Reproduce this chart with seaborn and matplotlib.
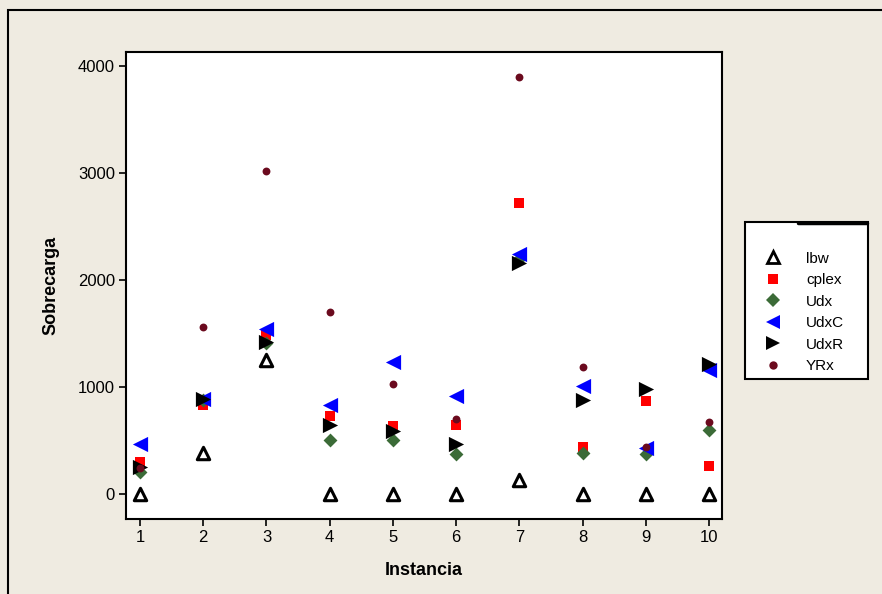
import matplotlib
matplotlib.use("Agg")
import matplotlib.pyplot as plt
import seaborn as sns
import pandas as pd
from matplotlib.patches import Rectangle
from matplotlib.lines import Line2D

instancia = [1, 2, 3, 4, 5, 6, 7, 8, 9, 10]
lbw   = [0, 385, 1250, 0, 0, 0, 130, 0, 0, 0]
cplex = [300, 830, 1490, 730, 635, 645, 2715, 440, 870, 265]
udx   = [205, 880, 1410, 505, 505, 375, 2200, 385, 375, 600]
udxc  = [467, 888, 1545, 832, 1234, 916, 2243, 1005, 430, 1160]
udxr  = [252, 888, 1420, 645, 589, 467, 2159, 875, 985, 1215]
yrx   = [243, 1561, 3015, 1700, 1030, 700, 3900, 1190, 440, 675]

series_names = ["lbw", "cplex", "Udx", "UdxC", "UdxR", "YRx"]
series_vals = [lbw, cplex, udx, udxc, udxr, yrx]

sns.set_style("white")
plt.rcParams['font.family'] = ['Liberation Sans', 'DejaVu Sans']
plt.rcParams['text.color'] = 'black'
plt.rcParams['axes.labelcolor'] = 'black'
plt.rcParams['xtick.color'] = 'black'
plt.rcParams['ytick.color'] = 'black'

bg = "#EFEBE1"
fig = plt.figure(figsize=(8.82, 5.94), dpi=100, facecolor=bg)
ax = fig.add_axes([126/882, 1-519/594, (722-126)/882, (519-52)/594])
ax.set_facecolor("white")

styles = {
    "lbw":   dict(marker="^", s=80, facecolor="white", edgecolor="black", linewidth=2.2),
    "cplex": dict(marker="s", s=55, facecolor="#FF0000", edgecolor="#FF0000", linewidth=0),
    "Udx":   dict(marker="D", s=50, facecolor="#3B6B37", edgecolor="#3B6B37", linewidth=0),
    "UdxC":  dict(marker="<", s=120, facecolor="#0000FF", edgecolor="#0000FF", linewidth=0),
    "UdxR":  dict(marker=">", s=120, facecolor="black", edgecolor="black", linewidth=0),
    "YRx":   dict(marker="o", s=32, facecolor="#6B0A1E", edgecolor="#6B0A1E", linewidth=0),
}

for name, vals in zip(series_names, series_vals):
    df = pd.DataFrame({"Instancia": instancia, "Sobrecarga": vals})
    st = styles[name]
    sns.scatterplot(data=df, x="Instancia", y="Sobrecarga", ax=ax,
                    marker=st["marker"], s=st["s"], color=st["facecolor"],
                    edgecolor=st["edgecolor"], linewidth=st["linewidth"], zorder=3)

ax.set_xlim(1 - 14/63.22, 10 + 13/63.22)
ax.set_ylim(-234, 4131)
ax.set_xticks(instancia)
ax.set_yticks([0, 1000, 2000, 3000, 4000])
ax.tick_params(axis="both", direction="out", length=5, width=1.2, color="black",
               labelsize=12, pad=3, bottom=True, left=True, labelcolor="black")
for sp in ax.spines.values():
    sp.set_color("black")
    sp.set_linewidth(1.5)
ax.set_xlabel("Instancia", fontsize=13, fontweight="bold", labelpad=12)
ax.set_ylabel("Sobrecarga", fontsize=13, fontweight="bold", labelpad=13)

# legend
handles = []
for name in series_names:
    st = styles[name]
    ms = {"lbw": 8, "cplex": 7, "Udx": 7, "UdxC": 10, "UdxR": 10, "YRx": 6}[name]
    handles.append(Line2D([], [], linestyle="none", marker=st["marker"], markersize=ms,
                          markerfacecolor=st["facecolor"], markeredgecolor=st["edgecolor"],
                          markeredgewidth=2.0 if name == "lbw" else 0))
leg = fig.legend(handles, series_names, loc="upper left",
                 bbox_to_anchor=(745/882, 1-377/594, 123/882, 155/594),
                 bbox_transform=fig.transFigure, mode="expand",
                 frameon=True, fancybox=False, framealpha=1.0, fontsize=11, handlelength=3.0,
                 handletextpad=0.65, borderpad=0.35, labelspacing=0.49, borderaxespad=0,
                 title=" ", title_fontsize=13)
leg.get_frame().set_edgecolor("black")
leg.get_frame().set_linewidth(1.5)
leg.get_frame().set_facecolor("white")
leg._legend_box.align = "left"

fig.lines.append(Line2D([798/882, 867/882], [1-222.5/594, 1-222.5/594], transform=fig.transFigure,
                        color="black", linewidth=2.5, zorder=10))

# outer border
fig.patches.append(Rectangle((8/882, -0.05), 1.2, 1 - 10/594 + 0.05, transform=fig.transFigure,
                             fill=False, edgecolor="black", linewidth=1.5, zorder=0))

fig.savefig("out.png", dpi=100, facecolor=bg)
